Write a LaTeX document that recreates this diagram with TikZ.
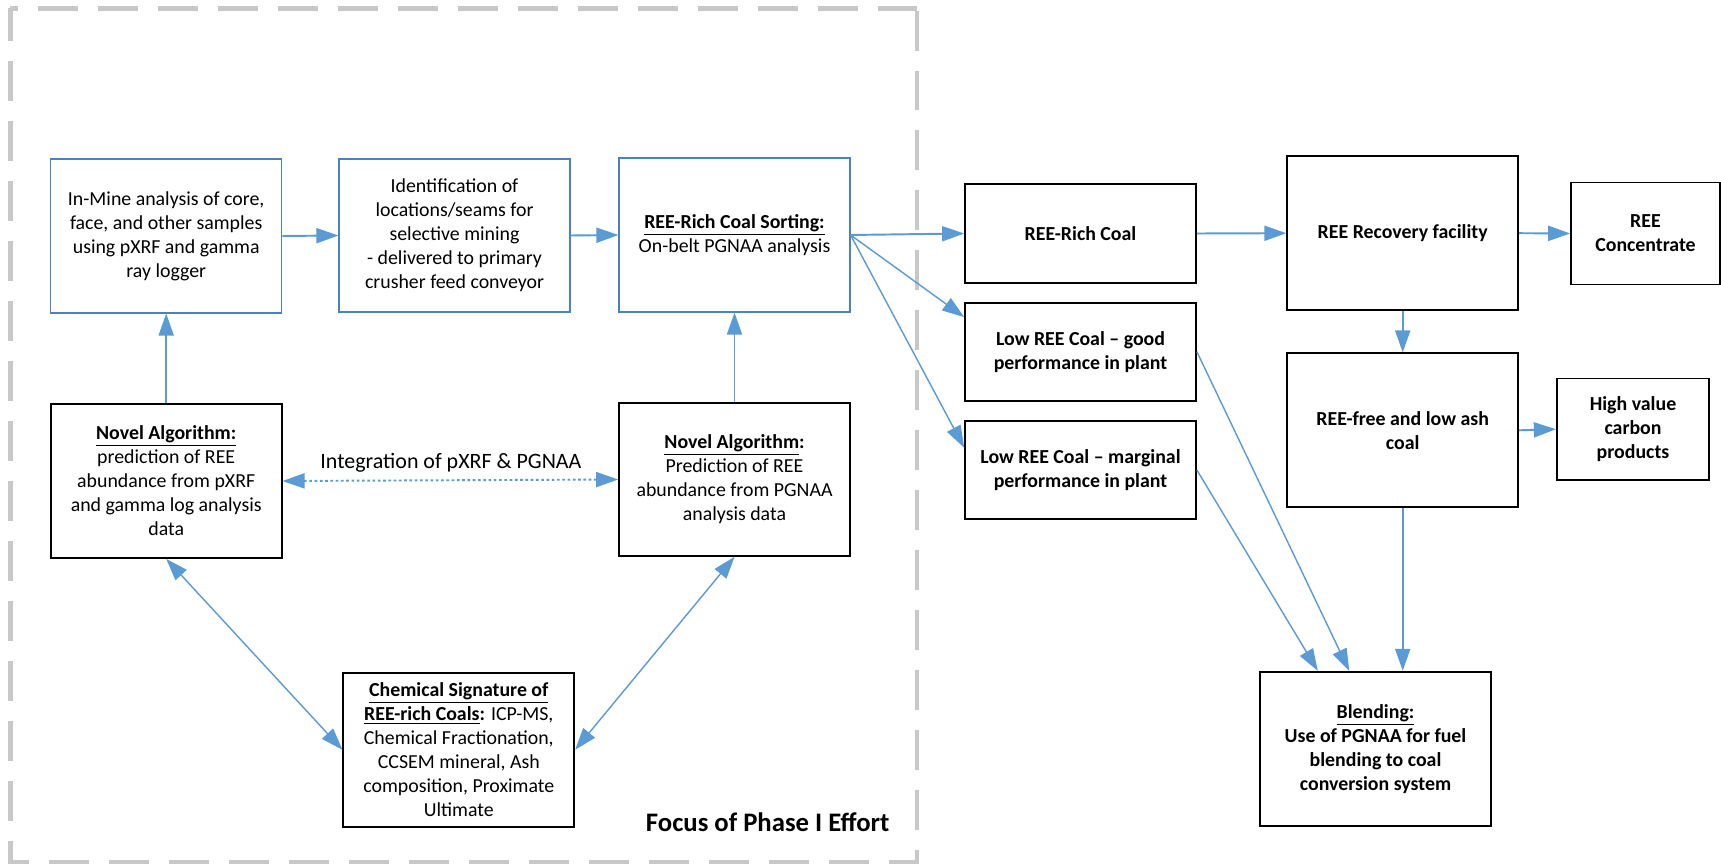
\documentclass[tikz,border=0pt]{standalone}
\usepackage{fontspec}
\setmainfont{Carlito}
\usetikzlibrary{arrows.meta,calc}
\definecolor{arrowblue}{RGB}{91,155,213}
\definecolor{boxblue}{RGB}{74,130,192}
\definecolor{borderg}{RGB}{200,200,200}
\newcommand\bodyfont{\fontsize{11.3}{13.66}\selectfont}
\begin{document}
\begin{tikzpicture}[x=0.02cm, y=-0.02cm,
  box/.style={rectangle, align=center, inner sep=2pt, fill=white, font=\bodyfont, minimum width=4.62cm, minimum height=3.08cm},
  bluebox/.style={box, draw=boxblue, line width=0.7pt},
  blackbox/.style={box, draw=black, line width=1pt},
  boldbox/.style={blackbox, font=\bodyfont\bfseries},
  conn/.style={draw=arrowblue, line width=1.1pt, -{Triangle[length=0.44cm,width=0.3cm]}},
  thinconn/.style={conn, line width=0.8pt},
  biconn/.style={draw=arrowblue, line width=0.8pt, {Triangle[length=0.44cm,width=0.3cm]}-{Triangle[length=0.44cm,width=0.3cm]}},
  focusborder/.style={draw=borderg, line width=2.6pt},
]
\fill[white] (0,0) rectangle (1721,864);
\useasboundingbox (0,0) rectangle (1721,864);

% focus region border
\draw[focusborder, dash pattern=on 0.8cm off 0.4cm, dash phase=0.652cm] (10.3,8.3) -- (917,8.3);
\draw[focusborder, dash pattern=on 0.8cm off 0.4cm, dash phase=0.152cm] (10.3,8.3) -- (10.3,862) -- (917,862) -- (917,8.3);

% left column boxes
\node[bluebox] (A) at (166.2,236) {In-Mine analysis of core,\\ face, and other samples\\ using pXRF and gamma\\ ray logger};
\node[bluebox, minimum height=3.06cm] (B) at (454.5,235.5) {Identification of\\ locations/seams for\\ selective mining\\ - delivered to primary\\ crusher feed conveyor};
\node[bluebox] (C) at (734.5,235) {\underline{\textbf{REE-Rich Coal Sorting:}}\\ On-belt PGNAA analysis};
\node[blackbox] (D) at (166.2,481) {\underline{\textbf{Novel Algorithm:}}\\ prediction of REE\\ abundance from pXRF\\ and gamma log analysis\\ data};
\node[blackbox, minimum height=3.06cm] (E) at (734.5,479.5) {\underline{\textbf{Novel Algorithm}}\textbf{:}\\ Prediction of REE\\ abundance from PGNAA\\ analysis data};
\node[blackbox] (F) at (458.8,749.8) {\underline{\textbf{Chemical Signature of}}\\ \underline{\textbf{REE-rich Coals}}\textbf{:} ICP-MS,\\ Chemical Fractionation,\\ CCSEM mineral, Ash\\ composition, Proximate\\ Ultimate};

% right side boxes
\node[boldbox, minimum height=1.98cm] (G) at (1080.5,233.5) {REE-Rich Coal};
\node[boldbox, minimum height=1.96cm] (H) at (1080.5,351.7) {Low REE Coal – good\\ performance in plant};
\node[boldbox, minimum height=1.96cm] (I) at (1080.5,470) {Low REE Coal – marginal\\ performance in plant};
\node[boldbox] (J) at (1402.7,233.2) {REE Recovery facility};
\node[boldbox, minimum width=2.98cm, minimum height=2.04cm] (K) at (1645.5,233.5) {REE\\ Concentrate};
\node[boldbox] (L) at (1402.7,430.3) {REE-free and low ash\\ coal};
\node[boldbox, minimum width=3.05cm, minimum height=2.03cm] (M) at (1633,429.2) {High value\\ carbon\\ products};
\node[boldbox] (N) at (1375.5,748.7) {\underline{Blending:}\\ Use of PGNAA for fuel\\ blending to coal\\ conversion system};

% labels
\node[font=\fontsize{12.5}{15}\selectfont, anchor=base, inner sep=0pt] (intlabel) at (450.9,468.3) {Integration of pXRF \& PGNAA};
\node[font=\fontsize{15.2}{18}\selectfont\bfseries, anchor=base east, inner sep=0pt] (focus) at (889.7,831.7) {Focus of Phase I Effort};

% connectors
\draw[conn] (A.east) -- (B.west);
\draw[conn] (B.east) -- (C.west);
\draw[conn] (D.north) -- (A.south);
\draw[conn] (E.north) -- (C.south);
\draw[biconn, dash pattern=on 1.5pt off 1.5pt, line width=1.1pt] (D.east) -- (E.west);
\draw[biconn] (D.south) -- (F.west);
\draw[biconn] (E.south) -- (F.east);
\draw[conn] (C.east) -- (G.west);
\draw[thinconn] (C.east) -- ($(H.north west)!0.153!(H.south west)$);
\draw[thinconn] (C.east) -- ($(I.north west)!0.276!(I.south west)$);
\draw[conn] (G.east) -- (J.west);
\draw[conn] (J.east) -- (K.west);
\draw[conn] (J.south) -- (L.north);
\draw[conn] (L.east) -- (M.west);
\draw[thinconn] (H.east) -- ($(N.north west)!0.387!(N.north east)$);
\draw[thinconn] (I.east) -- ($(N.north west)!0.252!(N.north east)$);
\draw[conn] (L.south) -- (L.south |- N.north);
\end{tikzpicture}
\end{document}
